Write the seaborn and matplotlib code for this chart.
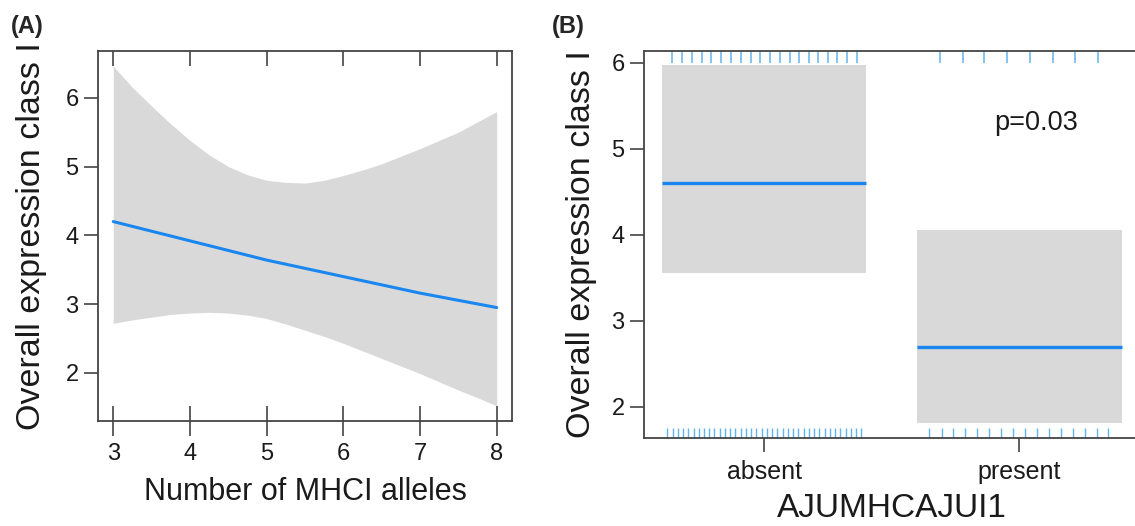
import numpy as np
import pandas as pd
import matplotlib
matplotlib.use("Agg")
import matplotlib.pyplot as plt
import seaborn as sns

# Panel A: effect of number of MHCI alleles (fit line + confidence band)
alleles = [3, 4, 5, 6, 7, 8]
fit_a = [4.20, 3.92, 3.64, 3.40, 3.16, 2.95]
band_x = [3, 3.25, 3.5, 3.75, 4, 4.25, 4.5, 4.75, 5, 5.25, 5.5,
          5.75, 6, 6.25, 6.5, 6.75, 7, 7.25, 7.5, 7.75, 8]
upper_a = [6.46, 6.15, 5.88, 5.62, 5.38, 5.17, 5.00, 4.88, 4.80, 4.77, 4.76,
           4.80, 4.87, 4.95, 5.04, 5.15, 5.26, 5.38, 5.50, 5.65, 5.80]
lower_a = [2.72, 2.77, 2.81, 2.85, 2.87, 2.88, 2.87, 2.84, 2.79, 2.71, 2.62,
           2.53, 2.43, 2.32, 2.21, 2.10, 1.99, 1.87, 1.75, 1.64, 1.52]

# Panel B: effect of AJUMHCAJUI1 (absent / present)
groups = ["absent", "present"]
fit_b = [4.60, 2.70]
upper_b = [5.97, 4.05]
lower_b = [3.56, 1.81]
p_label = "p=0.03"

# rug positions (offset from category centre)
rug_top_absent = [-0.360, -0.321, -0.282, -0.244, -0.206, -0.167, -0.129, -0.091,
                  -0.053, -0.014, 0.024, 0.062, 0.100, 0.138, 0.175, 0.212,
                  0.249, 0.287, 0.325, 0.364]
rug_top_present = [-0.311, -0.223, -0.137, -0.048, 0.041, 0.130, 0.218, 0.308]
rug_bottom_absent = [-0.378, -0.358, -0.337, -0.317, -0.296, -0.276, -0.255, -0.235,
                     -0.214, -0.194, -0.173, -0.153, -0.132, -0.112, -0.091, -0.071,
                     -0.050, -0.030, -0.009, 0.011, 0.032, 0.052, 0.073, 0.093,
                     0.114, 0.134, 0.155, 0.175, 0.196, 0.216, 0.237, 0.257,
                     0.278, 0.298, 0.319, 0.339, 0.360, 0.379]
rug_bottom_present = [-0.354, -0.305, -0.259, -0.212, -0.165, -0.118, -0.073, -0.026,
                      0.022, 0.067, 0.115, 0.161, 0.208, 0.255, 0.302, 0.347]

sns.set_style("white")
plt.rcParams['font.family'] = ['Liberation Sans', 'DejaVu Sans']

line_col = '#1a86f0'
rug_col = '#62b4ee'
band_col = '#d9d9d9'
spine_col = '#444444'
text_col = '#1a1a1a'

fig = plt.figure(figsize=(11.35, 5.26), dpi=100)
ax1 = fig.add_axes([0.0863, 0.1996, 0.3648, 0.7034])
ax2 = fig.add_axes([0.5674, 0.1673, 0.4366, 0.7357])

# ---- Panel A
df_band = pd.DataFrame({'x': band_x, 'upper': upper_a, 'lower': lower_a})
df_a = pd.DataFrame({'alleles': alleles, 'fit': fit_a})
ax1.fill_between(df_band['x'], df_band['lower'], df_band['upper'], color=band_col, lw=0)
sns.lineplot(data=df_a, x='alleles', y='fit', ax=ax1, color=line_col, lw=2.2)
ax1.set_xlim(2.80, 8.20)
ax1.set_ylim(1.30, 6.68)
ax1.set_xticks([3, 4, 5, 6, 7, 8])
ax1.set_yticks([2, 3, 4, 5, 6])
ax1.tick_params(axis='x', which='both', bottom=True, top=True, direction='inout',
                length=21, width=1.2, color=spine_col, labelsize=17, pad=5,
                labelcolor=text_col)
ax1.tick_params(axis='y', left=True, direction='out', length=10, width=1.2,
                color=spine_col, labelsize=17, pad=4, labelcolor=text_col)
# top ticks point inward
for t in ax1.xaxis.get_major_ticks():
    t.tick2line.set_markersize(11)
    t.tick2line.set_marker(3)
ax1.set_xlabel("Number of MHCI alleles", fontsize=22, labelpad=9, color=text_col)
ax1.set_ylabel("Overall expression class I", fontsize=24.5, labelpad=13, color=text_col)

# ---- Panel B
df_b = pd.DataFrame({'group': groups, 'fit': fit_b, 'upper': upper_b, 'lower': lower_b})
xpos = np.arange(len(groups))
ax2.bar(xpos, df_b['upper'] - df_b['lower'], bottom=df_b['lower'], width=0.8,
        color=band_col, lw=0)
ax2.hlines(df_b['fit'], xpos - 0.4, xpos + 0.4, color=line_col, lw=2.4)

sns.rugplot(x=np.concatenate([0 + np.array(rug_bottom_absent), 1 + np.array(rug_bottom_present)]),
            ax=ax2, height=0.026, color=rug_col, lw=1.1, expand_margins=False)
top_x = np.concatenate([0 + np.array(rug_top_absent), 1 + np.array(rug_top_present)])
ax2.vlines(top_x, 0.968, 1.0, transform=ax2.get_xaxis_transform(), color=rug_col, lw=1.1)

ax2.text(1.065, 5.30, p_label, fontsize=19.5, ha='center', va='center', color=text_col)
ax2.set_xlim(-0.47, 1.47)
ax2.set_ylim(1.636, 6.136)
ax2.set_xticks(xpos)
ax2.set_xticklabels(groups)
ax2.set_yticks([2, 3, 4, 5, 6])
ax2.tick_params(axis='x', bottom=True, direction='out', length=10, width=1.2,
                color=spine_col, labelsize=18, pad=6, labelcolor=text_col)
ax2.tick_params(axis='y', left=True, direction='out', length=10, width=1.2,
                color=spine_col, labelsize=17, pad=4, labelcolor=text_col)
ax2.set_xlabel("AJUMHCAJUI1", fontsize=24, labelpad=6, color=text_col)
ax2.set_ylabel("Overall expression class I", fontsize=24.5, labelpad=10, color=text_col)

for ax in (ax1, ax2):
    for s in ax.spines.values():
        s.set_color(spine_col)
        s.set_linewidth(1.3)

fig.text(0.010, 0.950, "(A)", fontsize=17, fontweight='bold', va='center')
fig.text(0.486, 0.950, "(B)", fontsize=17, fontweight='bold', va='center')

plt.savefig("out.png", dpi=100)
plt.close()
